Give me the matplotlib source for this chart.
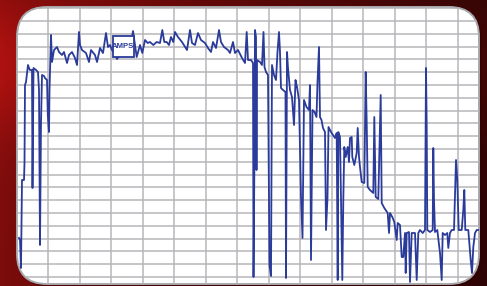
import numpy as np
import matplotlib
matplotlib.use("Agg")
import matplotlib.pyplot as plt
from matplotlib.patches import FancyBboxPatch, Rectangle

# current trace: time (s) and current (A)
time_s = [
    2, 3, 4, 5, 7, 7.5, 8, 9, 11, 12, 13, 15, 15.5, 16.5, 19, 21, 22, 23, 24, 25,
    27, 28, 30, 30.8, 32, 32.5, 34, 35, 37, 40, 42, 45, 47, 50, 52, 55, 58, 60,
    62, 63, 65, 69, 72, 74, 78, 80, 83, 86, 89, 91, 93, 95, 98, 100, 103, 108,
    113, 116, 119.7, 123, 125.3, 128, 130.7, 133, 136.3, 139.7, 143, 145.3,
    147.3, 149.7, 152, 154, 156.3, 158, 161, 165, 170, 173, 175, 178, 181, 184,
    188, 191, 194, 196, 199, 202, 204, 207, 211, 213, 216, 218, 221, 225, 228,
    229.7, 231, 234, 236, 236.5, 237.5, 238, 239, 239.5, 240, 243, 245, 246.5,
    247.5, 249, 251, 252.5, 254, 255, 257, 259, 260.5, 262, 263, 264, 266,
    268.5, 269, 270, 271, 273, 275, 277, 278.5, 280, 282, 284, 285.5, 287,
    289.5, 292, 293, 294, 295.5, 297.5, 299.5, 300.5, 302, 303, 304.5, 306,
    308, 309, 310.5, 311.5, 314, 316, 318, 319.7, 320.7, 321.3, 323, 325.3,
    326.3, 327.3, 328.7, 330.7, 332, 333, 334.7, 335.3, 337.3, 339.7, 340.7,
    342, 343, 344.7, 347.3, 348.7, 349.7, 350.7, 353, 356.3, 357.3, 358.7,
    361.3, 363.7, 364.7, 367.3, 370.7, 372, 373, 375.3, 377.3, 379.7, 380.7,
    383, 384.7, 386.3, 388, 388.7, 389.7, 392, 393, 394.7, 395.7, 398, 399.7,
    401.3, 403, 405.7, 408, 409, 409.7, 410.3, 413, 415.7, 416.3, 417, 418,
    420.3, 423, 424.7, 425.7, 428, 430.3, 431.3, 433, 434.7, 437, 439, 440.3,
    441.7, 444.7, 446.3, 447.3, 448.3, 451.3, 453.7, 455, 456.3, 458, 459.7, 461,
]
amps = [
    39, 37, 9, 97, 97, 114, 192, 195, 212, 209, 207, 207, 89, 209, 207, 205, 187,
    32, 154, 202, 201, 199, 197, 162, 145, 187, 242, 215, 227, 230, 225, 222,
    225, 214, 222, 225, 219, 212, 245, 232, 227, 224, 215, 227, 222, 215, 229,
    224, 244, 230, 232, 227, 222, 218, 222, 225, 227, 246, 220, 232, 224, 237,
    234, 235, 232, 235, 234, 247, 235, 235, 232, 240, 235, 245, 240, 235, 227,
    247, 234, 232, 244, 237, 234, 229, 225, 235, 229, 247, 235, 230, 227, 224,
    235, 224, 227, 219, 214, 245, 217, 217, 214, 0, 127, 247, 240, 107, 217,
    215, 212, 245, 210, 205, 202, 12, 1, 212, 202, 197, 225, 245, 225, 189,
    187, 185, -1, 225, 209, 187, 180, 152, 197, 190, 177, 80, 39, 177, 170,
    167, 192, 17, 167, 165, 160, 195, 230, 160, 157, 149, 145, 47, 79, 150,
    145, 142, 139, 144, -3, 145, 140, -3, 77, 130, 120, 130, 115, 139, 140,
    120, 112, 124, 149, 120, 110, 95, 94, 205, 154, 90, 87, 84, 160, 80, 78,
    182, 74, 69, 64, 44, 64, 60, 55, 37, 54, 52, 20, 20, 44, 4, 44, 45, -5,
    44, 44, 44, -3, 44, 47, 44, 47, 209, 150, 47, 45, 47, 129, 77, 45, 47, 24,
    -3, 44, 42, 44, 29, 44, 47, 47, 117, 97, 47, 47, 67, 87, 47, 47, 17, 4,
    30, 44, 47, 47,
]

W, H = 487, 286
fig = plt.figure(figsize=(W / 100, H / 100), dpi=100)

# dark red backdrop, brighter on the left
bg = fig.add_axes([0, 0, 1, 1])
xx = np.linspace(0, 1, W)[None, :]
yy = np.linspace(0, 1, H)[:, None]
shade = 0.72 + 0.28 * np.exp(-((yy - 0.22) / 0.25) ** 2)
red = (175 - 110 * xx ** 0.7) * shade
img = np.dstack([red, 0.10 * red, 0.09 * red]) / 255.0
bg.imshow(np.clip(img, 0, 1), aspect="auto", extent=[0, 1, 0, 1])
bg.set_axis_off()

ax = fig.add_axes([17 / W, 2 / H, 462 / W, 277 / H])
ax.set_xlim(0, 462)
ax.set_ylim(-7, 270)
ax.set_axis_off()

shadow = FancyBboxPatch((3, -10), 462, 277, boxstyle="round,pad=0,rounding_size=30",
                        fc="#300000", ec="none", alpha=0.5, zorder=0, clip_on=False)
ax.add_patch(shadow)
panel = FancyBboxPatch((0, -7), 462, 277, boxstyle="round,pad=0,rounding_size=30",
                       fc="white", ec="#a8a8ac", lw=1.4, zorder=1, clip_on=False)
ax.add_patch(panel)

grid_kw = dict(color="#b6b6ba", lw=1.1, zorder=2)
vl = ax.vlines(np.arange(-0.5, 463, 31.5), -7, 270, **grid_kw)
hl = ax.hlines(np.arange(0, 270, 12.8), 0, 462, **grid_kw)
vl.set_clip_path(panel)
hl.set_clip_path(panel)

line, = ax.plot(time_s, amps, color="#2b3b9a", lw=1.3, zorder=3)
line.set_clip_path(panel)

ax.add_patch(Rectangle((95.5, 220), 21, 21, fc="white", ec="#2b3b9a", lw=1.3, zorder=4))
ax.text(106, 231, "AMPS", ha="center", va="center", fontsize=5.6,
        fontweight="bold", family="Liberation Sans", color="#2b3b9a", zorder=5)

fig.savefig("out.png", dpi=100)
